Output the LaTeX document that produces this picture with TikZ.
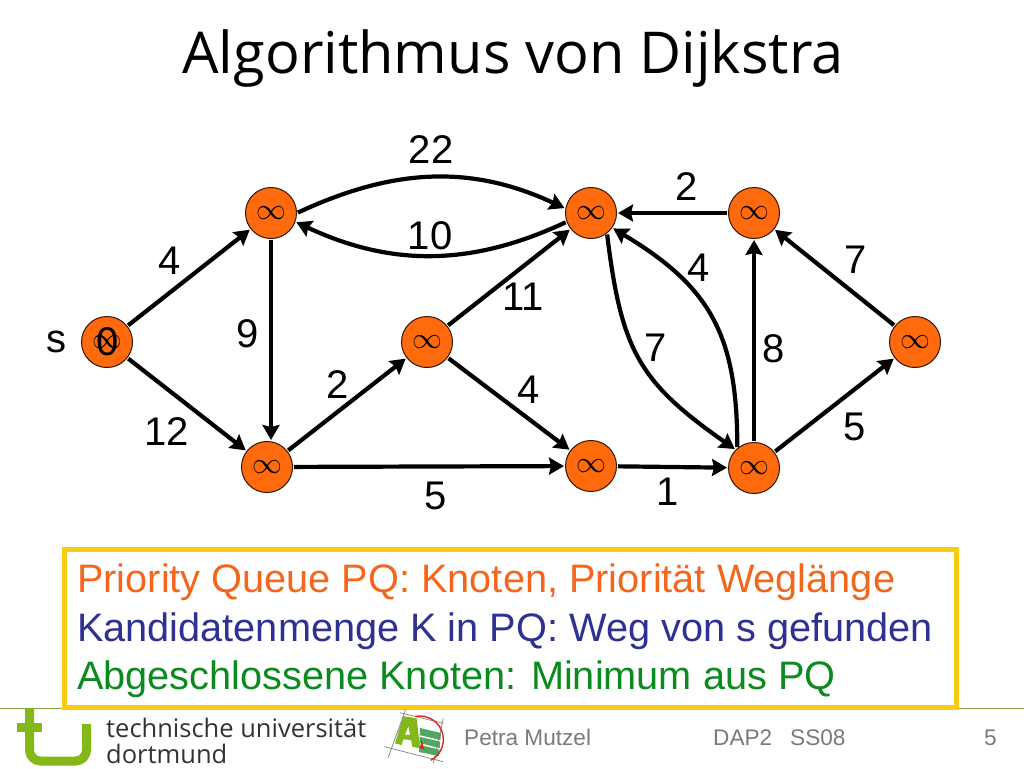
\documentclass[tikz,border=0pt]{standalone}
\usepackage{fontspec}
\setmainfont{Liberation Sans}
\newfontfamily\titlefont{Open Sans}
\newfontfamily\tufont{Open Sans}
\usetikzlibrary{arrows.meta}
\definecolor{knoten}{HTML}{FF6A0D}
\definecolor{tugreen}{HTML}{84B819}
\definecolor{boxyellow}{HTML}{F9CC11}
\definecolor{prioorange}{HTML}{F4661B}
\definecolor{kandblue}{HTML}{2E3192}
\definecolor{abgreen}{HTML}{0B8A1F}
\definecolor{footgray}{HTML}{7A7A7A}
\definecolor{aegreen}{HTML}{4FA860}
\definecolor{aered}{HTML}{D9262B}
\newcommand{\unendlich}{\scalebox{1.2}{$\infty$}}
\tikzset{
    >={Stealth[length=15pt,width=17pt,inset=2pt]},
    vertex/.style={circle, draw=black!80!knoten, line width=1pt, fill=knoten, minimum size=51pt, inner sep=0pt, font=\fontsize{24}{24}\selectfont},
    kante/.style={->, line width=4.2pt, shorten >=1pt, shorten <=1pt},
    weight/.style={inner sep=0pt, xshift=1pt, font=\fontsize{40}{40}\selectfont},
    boxline/.style={anchor=base west, inner sep=0pt, font=\fontsize{39.7}{39.7}\selectfont},
    footer/.style={anchor=base west, inner sep=0pt, text=footgray, font=\fontsize{22.6}{22.6}\selectfont},
    tuline/.style={anchor=base west, inner sep=0pt, text=black!80, font=\tufont\fontsize{25.5}{25.5}\selectfont},
}

\begin{document}
\begin{tikzpicture}[x=1pt, y=-1pt]
    \useasboundingbox (0,0) rectangle (1024,768);
    \node[anchor=base, inner sep=0pt, font=\titlefont\fontsize{57.7}{57.7}\selectfont] (title) at (513,74) {Algorithmus von Dijkstra};

    % vertices
    \node[vertex] (s) at (107,342) {\unendlich};
    \node[vertex] (a) at (271,213) {\unendlich};
    \node[vertex] (b) at (267,467) {\unendlich};
    \node[vertex] (c) at (427,342) {\unendlich};
    \node[vertex] (d) at (591,213) {\unendlich};
    \node[vertex] (e) at (591,466) {\unendlich};
    \node[vertex] (f) at (754,213) {\unendlich};
    \node[vertex] (g) at (754,468) {\unendlich};
    \node[vertex] (h) at (915,342) {\unendlich};
    \node[weight] (szero) at (107,342) {0};
    \node[weight] (sname) at (55,342) {s};

    % edges
    \draw[kante] (s) -- (a);
    \draw[kante] (s) -- (b);
    \draw[kante] (a.south) -- (a.south |- b.north);
    \draw[kante] (b) -- (c);
    \draw[kante] (b) -- (e);
    \draw[kante] (c) -- (d);
    \draw[kante] (c) -- (e);
    \draw[kante] (e) -- (g);
    \draw[kante] (g) -- (f);
    \draw[kante] (g) -- (h);
    \draw[kante] (h) -- (f);
    \draw[kante] (f) -- (d);
    \draw[kante] (a.0) to[out=25, in=155] (d.170);
    \draw[kante] (d.200) to[out=205, in=-25] (a.-20);
    \draw[kante] (d.-52) to[out=-83, in=145, looseness=1.2] (g.135);
    \draw[kante] (g.130) to[out=90, in=-31, looseness=1.15] (d.-35);

    % weights
    \foreach \name/\x/\y/\txt in {wa/430/150/22, wb/686/187/2, wc/429/236/10, wd/169/261/4, we/698/268/4,
        wf/855/260/7, wg/522/297/11, wh/247/334/9, wi/655/348/7, wj/773/349/8, wk/337/385/2,
        wl/528/390/4, wm/854/427/5, wn/166/432/12, wo/435/496/5, wp/667/492/1}
        \node[weight] (\name) at (\x,\y) {\txt};

    % text box
    \node[draw=boxyellow, line width=4.5pt, minimum width=892pt, minimum height=158pt, inner sep=0pt] (box) at (510.5,628.5) {};
    \node[boxline, text=prioorange] (prio) at (77,592) {Priority Queue PQ: Knoten, Priorität Weglänge};
    \node[boxline, text=kandblue] (kand) at (77,641) {Kandidatenmenge K in PQ: Weg von s gefunden};
    \node[boxline, text=abgreen] (abg) at (77,689) {Abgeschlossene Knoten: Minimum aus PQ};

    % footer
    \draw[tugreen!60!gray, line width=0.8pt] (0,708) -- (62,708) (959,708) -- (1024,708);
    \draw[tugreen, line width=9pt] (29.5,708) -- (29.5,750) arc[start angle=180, end angle=90, radius=11] -- (75.5,761) arc[start angle=90, end angle=0, radius=11] -- (86.5,724);
    \draw[tugreen, line width=9pt] (17,727.5) -- (42,727.5);
    \node[tuline] (tuname) at (106,737) {technische universität};
    \node[tuline] (tucity) at (106,763) {dortmund};

    % logo
    \fill[tugreen, even odd rule] (403.3,716) -- (416.7,718.3) -- (420,748.3) -- (412.3,746.7) -- (411,740) -- (403.3,739.3) -- (401.7,745) -- (395,743.3) -- cycle
        (408.5,726) -- (410,735) -- (405,734.5) -- cycle;
    \fill[aegreen] (420,728) -- (441,733) -- (439,756) -- (419,752) -- cycle;
    \draw[white, line width=1.5pt] (420,736) -- (441,741) (420,744) -- (440,749);
    \fill[aered] (420,748.3) -- (424.3,749.3) -- (421.7,740) -- cycle;
    \draw[gray, line width=0.7pt] (400,712.7) -- (443.3,723.3) (384.3,746.7) -- (443.3,761.7) (405.7,709.3) -- (388.3,757.3) (443.3,718.3) -- (433.3,763.3);
    \draw[aered, line width=1.4pt] (415,716.5) arc[start angle=-102, end angle=62, radius=23.5];

    \node[footer] (autor) at (464,745) {Petra Mutzel};
    \node[footer] (kurs) at (713,745) {DAP2};
    \node[footer] (sem) at (790,745) {SS08};
    \node[footer] (seite) at (984,745) {5};
\end{tikzpicture}
\end{document}
